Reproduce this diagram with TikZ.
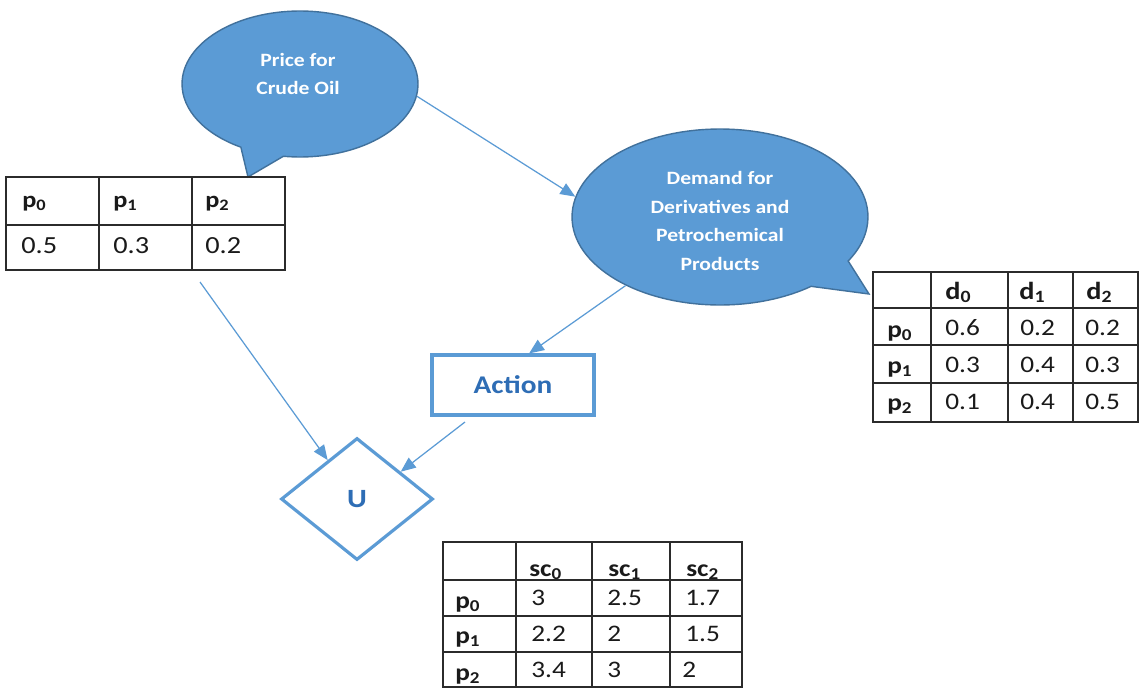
\documentclass[tikz,border=0pt]{standalone}
\usepackage{fontspec}
\setmainfont{Carlito}[FakeStretch=1.15]
\usetikzlibrary{shapes.geometric,shapes.callouts,arrows.meta}
\definecolor{bubblefill}{HTML}{5B9BD5}
\definecolor{bubbleedge}{HTML}{41719C}
\definecolor{arrowblue}{HTML}{5B9BD5}
\definecolor{boxblue}{HTML}{5B9BD5}
\definecolor{actiontext}{HTML}{2E6DB5}
\definecolor{tableline}{HTML}{2B2B2B}
\definecolor{celltext}{HTML}{1A1A1A}
\begin{document}
\begin{tikzpicture}[x=0.02cm,y=-0.02cm,
  bubble/.style={ellipse callout, fill=bubblefill, draw=bubbleedge, line width=0.8pt, inner sep=0pt},
  bubbletext/.style={text=white, font=\fontsize{10.7}{16.4}\selectfont\bfseries, align=center},
  conn/.style={draw=arrowblue, line width=0.7pt, -{Triangle[length=8.5pt,width=7pt]}},
  tbl/.style={draw=tableline, line width=1.1pt},
  hdr/.style={anchor=base west, inner sep=0pt, text=celltext, font=\bfseries},
  val/.style={anchor=base west, inner sep=0pt, text=celltext}]
\useasboundingbox (0,0) rectangle (1143,697);
\fill[white] (0,0) rectangle (1143,697);

% callouts
\node[bubble, minimum width=4.72cm, minimum height=2.92cm,
      callout absolute pointer={(248,177)}, callout pointer arc=22] (price) at (300,84) {};
\node[bubbletext] (pricetext) at (298,74) {Price for\\Crude Oil};

\node[bubble, minimum width=5.92cm, minimum height=3.52cm,
      callout absolute pointer={(869,294)}, callout pointer arc=22] (demand) at (720,217) {};
\node[bubbletext] (demandtext) at (720,221) {Demand for\\Derivatives and\\Petrochemical\\Products};

% action box
\node[draw=boxblue, line width=1.8pt, minimum width=3.24cm, minimum height=1.2cm,
      text=actiontext, font=\fontsize{14.5}{16}\selectfont\bfseries] (action) at (513,385) {Action};

% utility diamond
\node[diamond, draw=boxblue, line width=1.8pt, minimum width=3.04cm, minimum height=2.44cm,
      inner sep=0pt, text=actiontext, font=\fontsize{15}{16}\selectfont\bfseries] (u) at (357,499) {U};

% table 1
\draw[tbl] (6,177) rectangle (285,270);
\draw[tbl] (6,225) -- (285,225) (99,177) -- (99,270) (192,177) -- (192,270);
\begin{scope}[hdr/.append style={font=\fontsize{13}{14}\selectfont\bfseries},
              val/.append style={font=\fontsize{14}{15}\selectfont}]
\node[hdr] (t1p0) at (22,207) {p\textsubscript{0}};
\node[hdr] (t1p1) at (113,207) {p\textsubscript{1}};
\node[hdr] (t1p2) at (205,207) {p\textsubscript{2}};
\node[val] (t1v0) at (21,253) {0.5};
\node[val] (t1v1) at (113,253) {0.3};
\node[val] (t1v2) at (205,253) {0.2};
\end{scope}

% table 2
\draw[tbl] (873,272) rectangle (1138,422);
\draw[tbl] (873,308) -- (1138,308) (873,345) -- (1138,345) (873,383) -- (1138,383);
\draw[tbl] (931,272) -- (931,422) (1008,272) -- (1008,422) (1073,272) -- (1073,422);
\begin{scope}[hdr/.append style={font=\fontsize{14}{15}\selectfont\bfseries},
              val/.append style={font=\fontsize{13.5}{15}\selectfont}]
\node[hdr] (t2d0) at (945,299) {d\textsubscript{0}};
\node[hdr] (t2d1) at (1019,299) {d\textsubscript{1}};
\node[hdr] (t2d2) at (1086,299) {d\textsubscript{2}};
\node[hdr, font=\fontsize{13.5}{14}\selectfont\bfseries] (t2p0) at (887,337) {p\textsubscript{0}};
\node[hdr, font=\fontsize{13.5}{14}\selectfont\bfseries] (t2p1) at (887,373) {p\textsubscript{1}};
\node[hdr, font=\fontsize{13.5}{14}\selectfont\bfseries] (t2p2) at (887,410) {p\textsubscript{2}};
\node[val] (t2a0) at (945,335) {0.6};
\node[val] (t2a1) at (1020,335) {0.2};
\node[val] (t2a2) at (1085,335) {0.2};
\node[val] (t2b0) at (945,372) {0.3};
\node[val] (t2b1) at (1020,372) {0.4};
\node[val] (t2b2) at (1085,372) {0.3};
\node[val] (t2c0) at (945,409) {0.1};
\node[val] (t2c1) at (1020,409) {0.4};
\node[val] (t2c2) at (1085,409) {0.5};
\end{scope}

% table 3
\draw[tbl] (443,542) rectangle (742,687);
\draw[tbl] (443,580) -- (742,580) (443,616) -- (742,616) (443,652) -- (742,652);
\draw[tbl] (516,542) -- (516,687) (592,542) -- (592,687) (670,542) -- (670,687);
\begin{scope}[hdr/.append style={font=\fontsize{13.5}{15}\selectfont\bfseries},
              val/.append style={font=\fontsize{13.5}{15}\selectfont}]
\node[hdr] (t3s0) at (529,576) {sc\textsubscript{0}};
\node[hdr] (t3s1) at (608,576) {sc\textsubscript{1}};
\node[hdr] (t3s2) at (686,576) {sc\textsubscript{2}};
\node[hdr] (t3p0) at (455,608) {p\textsubscript{0}};
\node[hdr] (t3p1) at (455,643) {p\textsubscript{1}};
\node[hdr] (t3p2) at (455,680) {p\textsubscript{2}};
\node[val] (t3a0) at (531,605) {3};
\node[val] (t3a1) at (607,605) {2.5};
\node[val] (t3a2) at (685,605) {1.7};
\node[val] (t3b0) at (531,641) {2.2};
\node[val] (t3b1) at (607,641) {2};
\node[val] (t3b2) at (685,641) {1.5};
\node[val] (t3c0) at (531,677) {3.4};
\node[val] (t3c1) at (607,677) {3};
\node[val] (t3c2) at (682,677) {2};
\end{scope}

% connectors
\coordinate (pstart) at (200,282);
\coordinate (astart) at (465,422);
\draw[conn] (price.-6) -- (demand.172);
\draw[conn] (demand.-144) -- (action.63);
\draw[conn] (pstart) -- (u.127);
\draw[conn] (astart) -- (u.32);
\end{tikzpicture}
\end{document}
